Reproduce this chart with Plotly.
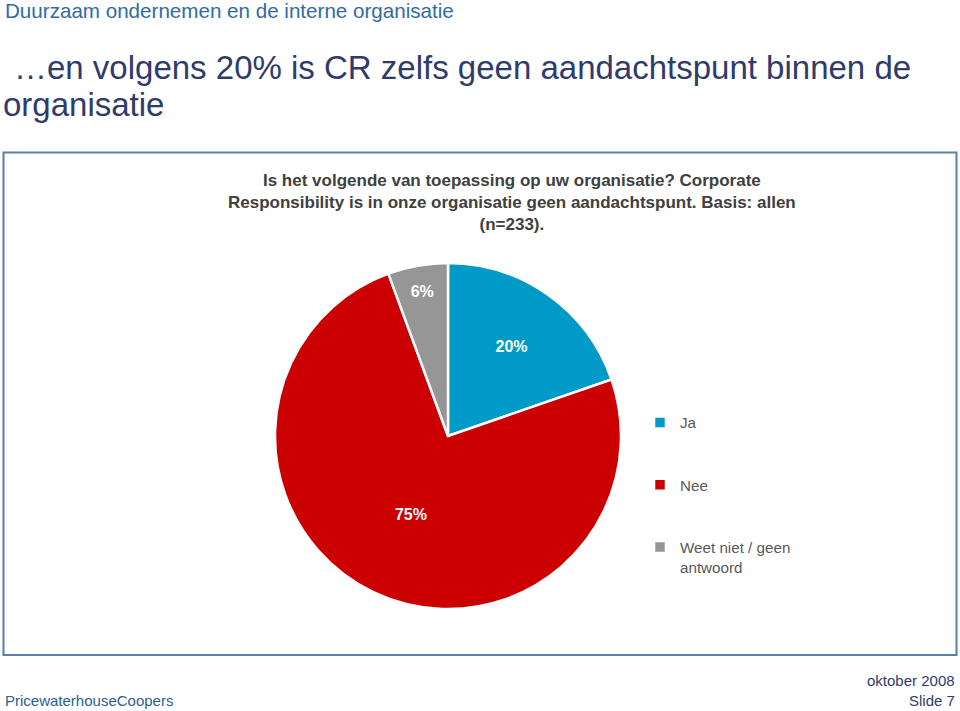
import plotly.graph_objects as go

# Data
categories = ["Ja", "Nee", "Weet niet / geen<br>antwoord"]
shares = [19.7, 74.7, 5.6]
share_labels = ["20%", "75%", "6%"]
colors = ["#009ac8", "#cc0000", "#969696"]
legend_pad = ["<br>&nbsp;<br>&nbsp;", "<br>&nbsp;<br>&nbsp;", ""]

W, H = 960, 711

def py(p):
    return 1 - p / H

def px(p):
    return p / W

cx, cy, r = 448, 436, 173

fig = go.Figure()
fig.add_trace(go.Pie(
    labels=[c + p for c, p in zip(categories, legend_pad)],
    values=shares,
    text=share_labels,
    textinfo="text",
    textposition="inside",
    insidetextorientation="horizontal",
    textfont=dict(family="Liberation Sans", size=16, color="white", weight="bold"),
    marker=dict(colors=colors, line=dict(color="white", width=2.5)),
    sort=False,
    direction="clockwise",
    rotation=0,
    domain=dict(x=[px(cx - r), px(cx + r)], y=[py(cy + r), py(cy - r)]),
    hoverinfo="text",
))

fig.update_layout(
    width=W, height=H,
    margin=dict(l=0, r=0, t=0, b=0),
    paper_bgcolor="white",
    plot_bgcolor="white",
    showlegend=True,
    legend=dict(
        x=px(640), y=py(406), xanchor="left", yanchor="top",
        font=dict(family="Liberation Sans", size=15.2, color="#595959"),
        valign="top",
        itemwidth=30,
        tracegroupgap=0,
        bgcolor="rgba(0,0,0,0)",
    ),
    shapes=[
        dict(type="rect", xref="paper", yref="paper",
             x0=px(3.5), x1=px(956.5), y0=py(655), y1=py(152.5),
             line=dict(color="#5a7fa8", width=2), fillcolor="rgba(0,0,0,0)"),
    ],
)

annos = [
    dict(text="Duurzaam ondernemen en de interne organisatie", x=px(3), y=py(10),
         xanchor="left", yanchor="middle",
         font=dict(family="Liberation Sans", size=20.6, color="#2e6ca8")),
    dict(text="\u2026en volgens 20% is CR zelfs geen aandachtspunt binnen de",
         x=px(12), y=py(68), xanchor="left", yanchor="middle",
         font=dict(family="Liberation Sans", size=33, color="#2f3b6b")),
    dict(text="organisatie",
         x=px(1), y=py(105), xanchor="left", yanchor="middle",
         font=dict(family="Liberation Sans", size=33, color="#2f3b6b")),
    dict(text="<b>Is het volgende van toepassing op uw organisatie? Corporate<br>"
              "Responsibility is in onze organisatie geen aandachtspunt. Basis: allen<br>"
              "(n=233).</b>",
         x=px(512), y=py(169), xanchor="center", yanchor="top", align="center",
         font=dict(family="Liberation Sans", size=17, color="#404040")),
    dict(text="PricewaterhouseCoopers", x=px(3), y=py(700),
         xanchor="left", yanchor="middle",
         font=dict(family="Liberation Sans", size=15, color="#2e5d96")),
    dict(text="oktober 2008", x=px(957), y=py(680),
         xanchor="right", yanchor="middle",
         font=dict(family="Liberation Sans", size=15, color="#2f3b6b")),
    dict(text="Slide 7", x=px(957), y=py(700),
         xanchor="right", yanchor="middle",
         font=dict(family="Liberation Sans", size=15, color="#2f3b6b")),
]
for a in annos:
    a.update(xref="paper", yref="paper", showarrow=False)
fig.update_layout(annotations=annos)

fig.write_html(
    "out.html",
    config={"displayModeBar": False},
    post_script="document.body.style.margin='0';document.body.style.padding='0';",
)
